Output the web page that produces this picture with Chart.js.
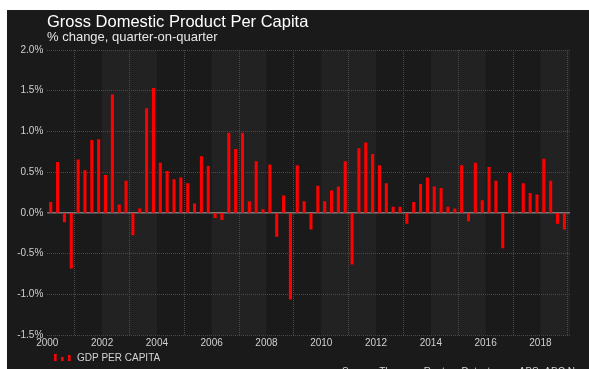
<!DOCTYPE html>
<html><head><meta charset="utf-8">
<script src="https://cdn.jsdelivr.net/npm/chart.js@4"></script>
<style>html,body{margin:0;padding:0;background:#ffffff;}canvas{display:block;}</style>
</head><body>
<canvas id="c" width="589" height="369"></canvas>
<script>
const years = [2000,2001,2002,2003,2004,2005,2006,2007,2008,2009,2010,2011,2012,2013,2014,2015,2016,2017,2018];
const quarters = ['Q1','Q2','Q3','Q4'];
const categories = [];
years.forEach(y => quarters.forEach(q => categories.push(y + ' ' + q)));
const gdpPerCapita = [
  0.13, 0.62, -0.11, -0.68,
  0.65, 0.52, 0.89, 0.90,
  0.46, 1.45, 0.10, 0.39,
  -0.27, 0.05, 1.28, 1.53,
  0.61, 0.51, 0.41, 0.43,
  0.36, 0.11, 0.69, 0.57,
  -0.06, -0.085, 0.98, 0.78,
  0.98, 0.14, 0.63, 0.04,
  0.59, -0.29, 0.21, -1.06,
  0.58, 0.14, -0.20, 0.33,
  0.14, 0.27, 0.32, 0.63,
  -0.63, 0.79, 0.86, 0.72,
  0.58, 0.36, 0.07, 0.07,
  -0.13, 0.13, 0.35, 0.43,
  0.32, 0.30, 0.07, 0.05,
  0.58, -0.10, 0.61, 0.15,
  0.56, 0.39, -0.43, 0.49,
  0.01, 0.36, 0.24, 0.22,
  0.66, 0.39, -0.13, -0.20
];
const xTickValues = [2000,2002,2004,2006,2008,2010,2012,2014,2016,2018];
const xTickLabels = ['2000','2002','2004','2006','2008','2010','2012','2014','2016','2018'];
const yTickValues = [-1.5,-1.0,-0.5,0.0,0.5,1.0,1.5,2.0];
const yTickLabels = ['-1.5%','-1.0%','-0.5%','0.0%','0.5%','1.0%','1.5%','2.0%'];
const shadedBands = [[2002,2004],[2006,2008],[2010,2012],[2014,2016],[2018,2020]];
const xMin = 2000, xMax = 2019.08;

const titleText = 'Gross Domestic Product Per Capita';
const subtitleText = '% change, quarter-on-quarter';
const legendText = 'GDP PER CAPITA';
const sourceText = 'Source: Thomson Reuters Datastream, ABS, ABC News';

const points = categories.map((c, i) => {
  const [y, q] = c.split(' ');
  return { x: Number(y) + (quarters.indexOf(q) + 0.5) / 4, y: gdpPerCapita[i] };
});

const FONT = '"Liberation Sans", Arial, Helvetica, sans-serif';

const decor = {
  id: 'decor',
  beforeDraw(chart) {
    const ctx = chart.ctx, a = chart.chartArea, xs = chart.scales.x;
    ctx.save();
    ctx.fillStyle = '#1a1a1a';
    ctx.fillRect(7, 10, 582, 359);
    ctx.fillStyle = '#222222';
    shadedBands.forEach(([s, e]) => {
      const x1 = Math.max(xs.getPixelForValue(s), a.left);
      const x2 = Math.min(xs.getPixelForValue(e), a.right);
      ctx.fillRect(x1, a.top, x2 - x1, a.bottom - a.top);
    });
    ctx.restore();
  },
  beforeDatasetsDraw(chart) {
    const ctx = chart.ctx, a = chart.chartArea, ys = chart.scales.y;
    const y0 = ys.getPixelForValue(0);
    ctx.save();
    ctx.strokeStyle = '#7a7a7a';
    ctx.lineWidth = 1.5;
    ctx.beginPath();
    ctx.moveTo(a.left, y0);
    ctx.lineTo(a.right, y0);
    ctx.stroke();
    ctx.restore();
  },
  afterDraw(chart) {
    const ctx = chart.ctx;
    ctx.save();
    ctx.textBaseline = 'alphabetic';
    ctx.textAlign = 'left';
    ctx.fillStyle = '#ffffff';
    ctx.font = '16.5px ' + FONT;
    ctx.fillText(titleText, 47, 27);
    ctx.fillStyle = '#e6e6e6';
    ctx.font = '13px ' + FONT;
    ctx.fillText(subtitleText, 47, 41);
    // legend
    ctx.fillStyle = '#ff0000';
    ctx.fillRect(54, 354, 2.6, 7);
    ctx.fillRect(61, 357, 2.6, 4);
    ctx.fillRect(68, 355, 2.6, 6);
    ctx.fillStyle = '#d4d4d4';
    ctx.font = '10px ' + FONT;
    ctx.fillText(legendText, 77, 361);
    ctx.fillText(sourceText, 342, 374.5);
    ctx.restore();
  }
};

new Chart(document.getElementById('c'), {
  type: 'bar',
  data: {
    datasets: [{
      label: legendText,
      data: points,
      backgroundColor: '#ff0000',
      borderWidth: 0,
      barThickness: 2.4
    }]
  },
  options: {
    responsive: false,
    animation: false,
    devicePixelRatio: 1,
    layout: { padding: { top: 50, left: 0, right: 19, bottom: 0 } },
    plugins: { legend: { display: false }, title: { display: false }, tooltip: { enabled: false } },
    scales: {
      x: {
        type: 'linear',
        min: xMin,
        max: xMax,
        offset: false,
        afterFit(s) { s.height = 34; },
        afterBuildTicks(s) { s.ticks = xTickValues.map(v => ({ value: v })); },
        grid: { color: '#4a4a4a', lineWidth: 1, drawTicks: false },
        border: { display: false, dash: [1, 1] },
        ticks: {
          padding: 2,
          color: '#d0d0d0',
          font: { family: FONT, size: 10 },
          maxRotation: 0,
          autoSkip: false,
          callback: (v) => { const i = xTickValues.indexOf(v); return i >= 0 ? xTickLabels[i] : ''; }
        }
      },
      y: {
        min: -1.5,
        max: 2.0,
        afterFit(s) { s.width = 47.3; },
        afterBuildTicks(s) { s.ticks = yTickValues.map(v => ({ value: v })); },
        grid: { color: '#4a4a4a', lineWidth: 1, drawTicks: false },
        border: { display: false, dash: [1, 1] },
        ticks: {
          padding: 4,
          color: '#d0d0d0',
          font: { family: FONT, size: 10 },
          callback: (v) => { const i = yTickValues.findIndex(t => Math.abs(t - v) < 1e-9); return i >= 0 ? yTickLabels[i] : ''; }
        }
      }
    }
  },
  plugins: [decor]
});
</script>
</body></html>
